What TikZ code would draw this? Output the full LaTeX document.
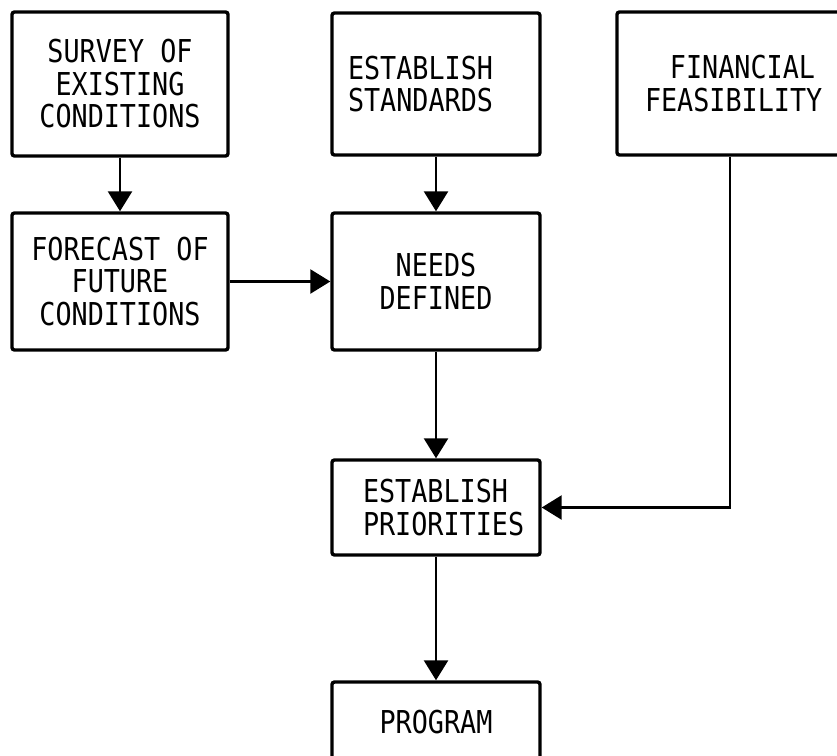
\documentclass[tikz,border=0pt]{standalone}
\usepackage{fontspec}
\newfontfamily\typewriter[FakeStretch=0.85]{DejaVu Sans Mono}
\usetikzlibrary{arrows.meta}
\begin{document}
\begin{tikzpicture}[x=1pt,y=-1pt,
  box/.style={draw, line width=3.4pt, rounded corners=2.5pt,
    font=\typewriter\fontsize{31.5}{32.5}\selectfont, inner ysep=0pt},
  conn/.style={line width=2.6pt, -{Triangle[width=24pt,length=20pt]}},
  plain/.style={line width=2.6pt}]
\useasboundingbox (0,0) rectangle (837,755);

\node[box, minimum width=216pt, minimum height=144pt, align=center, inner xsep=0pt]
  (survey) at (120,84) {SURVEY OF\\EXISTING\\CONDITIONS};
\node[box, inner xsep=16pt, text width=176pt, minimum height=142pt, align=left]
  (standards) at (436,84) {ESTABLISH\\STANDARDS};
\node[box, inner xsep=28pt, text width=170pt, minimum height=143pt, align=right]
  (financial) at (730,83.5) {FINANCIAL\\FEASIBILITY};
\node[box, minimum width=216pt, minimum height=137pt, align=center, inner xsep=0pt]
  (forecast) at (120,281.5) {FORECAST OF\\FUTURE\\CONDITIONS};
\node[box, minimum width=208pt, minimum height=137pt, align=center, inner xsep=0pt]
  (needs) at (436,281.5) {NEEDS\\DEFINED};
\node[box, inner xsep=31pt, text width=146pt, minimum height=95pt, align=left]
  (priorities) at (436,507.5) {ESTABLISH\\PRIORITIES};
\node[box, minimum width=208pt, minimum height=80pt, align=center, inner xsep=0pt]
  (program) at (436,722) {PROGRAM};

\draw[conn] (survey) -- (forecast);
\draw[conn] (standards) -- (needs);
\draw[conn] (forecast) -- (needs);
\draw[conn] (needs) -- (priorities);
\draw[conn] (priorities) -- (program);
\draw[conn] (financial) |- (priorities);
\end{tikzpicture}
\end{document}
